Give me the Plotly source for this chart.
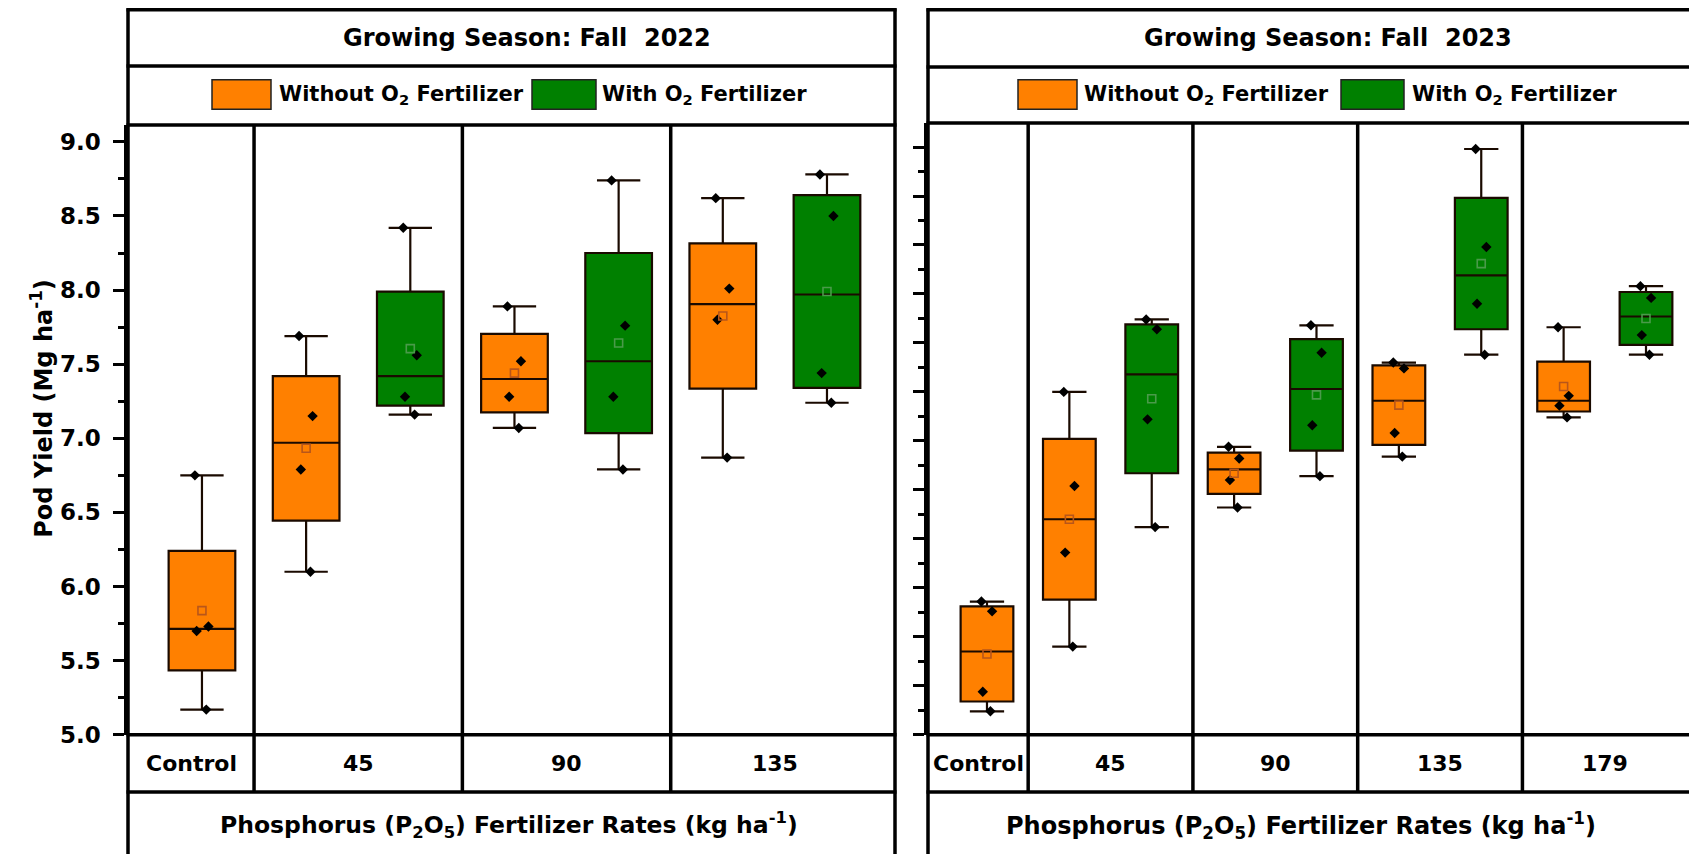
import numpy as np
import plotly.graph_objects as go

# ---------------- data ----------------
seasons = ["Growing Season: Fall\u00a0 2022", "Growing Season: Fall\u00a0 2023"]
rates_2022 = ["Control", "45", "90", "135"]
rates_2023 = ["Control", "45", "90", "135", "179"]

# Fall 2022 pod yield (Mg/ha), n = 4 plots per treatment
y22_control = [5.17, 5.70, 5.73, 6.75]
y22_without = [[6.10, 6.79, 7.15, 7.69],   # 45
               [7.07, 7.28, 7.52, 7.89],   # 90
               [6.87, 7.80, 8.01, 8.62]]   # 135
y22_with = [[7.16, 7.28, 7.56, 8.42],
            [6.79, 7.28, 7.76, 8.74],
            [7.24, 7.44, 8.50, 8.78]]

# Fall 2023 pod yield (Mg/ha)
y23_control = [5.12, 5.22, 5.63, 5.68]
y23_without = [[5.45, 5.93, 6.27, 6.75],   # 45
               [6.16, 6.30, 6.41, 6.47],   # 90
               [6.42, 6.54, 6.87, 6.90],   # 135
               [6.62, 6.68, 6.73, 7.08]]   # 179
y23_with = [[6.06, 6.61, 7.07, 7.12],
            [6.32, 6.58, 6.95, 7.09],
            [6.94, 7.20, 7.49, 7.99],
            [6.94, 7.04, 7.23, 7.29]]

legend_names = ["Without O<sub>2</sub> Fertilizer", "With O<sub>2</sub> Fertilizer"]
y_title = "Pod Yield (Mg ha<sup>-1</sup>)"
x_title = "Phosphorus (P<sub>2</sub>O<sub>5</sub>) Fertilizer Rates (kg ha<sup>-1</sup>)"

# ---------------- style ----------------
W, H = 1689, 865
ORANGE = "#FF8000"
GREEN = "#008000"
MEAN_OR = "#B8561A"
MEAN_GR = "#4A9A4A"
FONT = "DejaVu Sans"
LW = 3.5


def fx(px):
    return px / W


def fy(py):
    return 1 - py / H


fig = go.Figure()


def add_box(vals, pos, color, mean_color, xa, ya):
    fig.add_trace(go.Box(
        y=vals, x=[pos] * len(vals), xaxis=xa, yaxis=ya,
        width=0.64, fillcolor=color,
        line=dict(color="#1a0a00", width=2.2),
        whiskerwidth=0.65, boxpoints="all", jitter=0.25, pointpos=0,
        marker=dict(symbol="diamond", size=8, color="black"),
        quartilemethod="exclusive", showlegend=False, hoverinfo="y"))
    fig.add_trace(go.Scatter(
        x=[pos], y=[float(np.mean(vals))], xaxis=xa, yaxis=ya, mode="markers",
        marker=dict(symbol="square-open", size=8, color=mean_color,
                    line=dict(width=1.6, color=mean_color)),
        showlegend=False, hoverinfo="y"))


def add_panel(control, without, with_, xa, ya):
    add_box(control, 0, ORANGE, MEAN_OR, xa, ya)
    for i, (a, b) in enumerate(zip(without, with_)):
        add_box(a, 2 * i + 1, ORANGE, MEAN_OR, xa, ya)
        add_box(b, 2 * i + 2, GREEN, MEAN_GR, xa, ya)


add_panel(y22_control, y22_without, y22_with, "x", "y")
add_panel(y23_control, y23_without, y23_with, "x2", "y2")

# ---------------- axes ----------------
L = dict(x0=128, x1=895, top=10, t1=67, plot_top=127, plot_bot=746, cat_bot=804)
R = dict(x0=928, x1=W, top=10, t1=68, plot_top=125, plot_bot=746, cat_bot=804)

xcommon = dict(showgrid=False, zeroline=False, showticklabels=False, ticks="",
               showline=False, fixedrange=True)
fig.update_layout(
    xaxis=dict(domain=[fx(L["x0"]), fx(L["x1"])], range=[-0.71, 6.653],
               anchor="y", **xcommon),
    yaxis=dict(domain=[fy(L["plot_bot"]), fy(L["plot_top"])], range=[5.0, 9.113],
               anchor="x", tick0=5, dtick=0.5, tickformat=".1f",
               ticks="outside", ticklen=11, tickwidth=2.5, tickcolor="black",
               ticklabelstandoff=8,
               minor=dict(dtick=0.25, ticks="outside", ticklen=6, tickwidth=2.5,
                          tickcolor="black"),
               showline=True, linewidth=LW, linecolor="black", showgrid=False,
               zeroline=False,
               tickfont=dict(family=FONT, size=23, color="black", weight="bold")),
    xaxis2=dict(domain=[fx(R["x0"]), 1.0], range=[-0.716, 8.522],
                anchor="y2", **xcommon),
    yaxis2=dict(domain=[fy(R["plot_bot"]), fy(R["plot_top"])], range=[5.0, 8.122],
                anchor="x2", tick0=5, dtick=0.25, showticklabels=False,
                ticks="outside", ticklen=11, tickwidth=2.5, tickcolor="black",
                minor=dict(dtick=0.125, ticks="outside", ticklen=6, tickwidth=2.5,
                           tickcolor="black"),
                showline=True, linewidth=LW, linecolor="black", showgrid=False,
                zeroline=False),
)

# ---------------- frames ----------------
shapes = []


def hline(py, x0, x1):
    shapes.append(dict(type="line", xref="paper", yref="paper",
                       x0=fx(x0), x1=fx(x1), y0=fy(py), y1=fy(py),
                       line=dict(color="black", width=LW)))


def vline(px, y0, y1):
    shapes.append(dict(type="line", xref="paper", yref="paper",
                       x0=fx(px), x1=fx(px), y0=fy(y0), y1=fy(y1),
                       line=dict(color="black", width=LW)))


for P, right_edge in ((L, True), (R, False)):
    for key in ("top", "t1", "plot_top", "plot_bot", "cat_bot"):
        hline(P[key], P["x0"] - 1.5, P["x1"] + 1.5)
    vline(P["x0"], P["top"] - 1.5, H + 2)
    if right_edge:
        vline(P["x1"], P["top"] - 1.5, H + 2)

for xa, P, n in (("x", L, 3), ("x2", R, 4)):
    for k in range(n):
        shapes.append(dict(type="line", xref=xa, yref="paper",
                           x0=2 * k + 0.5, x1=2 * k + 0.5,
                           y0=fy(P["plot_top"]), y1=fy(P["cat_bot"]),
                           line=dict(color="black", width=LW)))

# legend swatches
for (x0, x1, c) in ((212, 271, ORANGE), (532, 596, GREEN),
                    (1018, 1077, ORANGE), (1341, 1404, GREEN)):
    shapes.append(dict(type="rect", xref="paper", yref="paper",
                       x0=fx(x0), x1=fx(x1), y0=fy(111), y1=fy(81),
                       fillcolor=c, line=dict(color="#222", width=1.5)))

fig.update_layout(shapes=shapes)

# ---------------- text ----------------
ann = []


def text(t, x, y, size, xanchor="center", xref="paper", angle=0):
    ann.append(dict(text=t, x=x, y=y, xref=xref, yref="paper", showarrow=False,
                    xanchor=xanchor, yanchor="middle", textangle=angle,
                    font=dict(family=FONT, size=size, color="black", weight="bold")))


text(seasons[0], fx(527), fy(39), 24)
text(seasons[1], fx(1328), fy(39), 24)

for x_txt, name in ((277, legend_names[0]), (600, legend_names[1]),
                    (1082, legend_names[0]), (1410, legend_names[1])):
    text(name, fx(x_txt), fy(96), 21, xanchor="left")

# category labels at column centres
left_edges = {"x": -0.71, "x2": -0.716}
for xa, cats in (("x", rates_2022), ("x2", rates_2023)):
    for i, c in enumerate(cats):
        xc = (left_edges[xa] + 0.5) / 2 if i == 0 else 2 * i - 0.5
        text(c, xc, fy(775), 22, xref=xa)

text(x_title, fx(509), fy(838), 23.5)
text(x_title, fx(1301), fy(838), 24)
text(y_title, fx(42), fy(415), 24, angle=-90)

fig.update_layout(annotations=ann, width=W, height=H,
                  margin=dict(l=0, r=0, t=0, b=0),
                  paper_bgcolor="white", plot_bgcolor="white",
                  showlegend=False)

fig.write_html("out.html")
